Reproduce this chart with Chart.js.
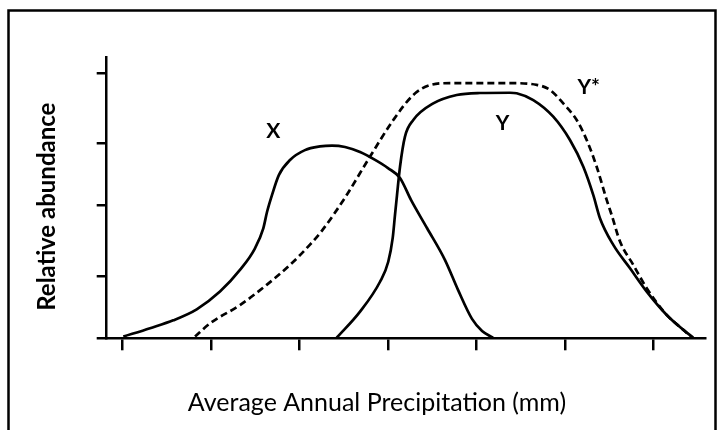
<!DOCTYPE html>
<html><head><meta charset="utf-8">
<script src="https://cdn.jsdelivr.net/npm/chart.js@4.4.1/dist/chart.umd.min.js"></script>
<style>html,body{margin:0;padding:0;background:#fff;overflow:hidden}canvas{display:block}</style>
</head><body>
<canvas id="c" width="723" height="430"></canvas>
<script>
// ---- data (x: precipitation, arbitrary units; y: relative abundance, arbitrary units) ----
const xTickValues = [0, 100, 200, 300, 400, 500, 600];
const yTickValues = [0, 22, 47.3, 69.2, 94.4];

const speciesXx = [0.7, 30.9, 57.2, 83.7, 110, 132.6, 149.6, 159, 163.2, 168.8, 176.7, 189.2, 206.1, 223.1, 236.7, 251.4, 268.4, 285.4, 300, 313.6, 326, 344.1, 364.5, 379.2, 395, 406.4, 418.8];
const speciesXy = [0.6, 3.6, 6.4, 10.3, 16.6, 24.3, 32, 39.1, 44.9, 50.9, 58.1, 63.4, 66.9, 68.2, 68.5, 68, 66.2, 63.4, 60.5, 57, 49.2, 39.2, 27.8, 17.2, 6.9, 2.6, 0.2];

const speciesYx = [242, 268.4, 291, 300.3, 305.3, 307.9, 310.2, 313.6, 319.2, 328.6, 351.2, 377.7, 404, 437.9, 445.5, 464.3, 486.9, 505.8, 520.9, 532.2, 539.7, 554.8, 573.7, 592.6, 615.2, 634, 645.3];
const speciesYy = [0.2, 9.5, 20.1, 27.2, 35.6, 43.8, 50.9, 61, 71.7, 77.6, 83.5, 86.5, 87.2, 87.3, 87.1, 84.7, 78.8, 70.5, 61, 50.9, 42.7, 33.2, 24.9, 16.6, 8.3, 3, 0.2];

const speciesYstarx = [81.8, 98.7, 132.6, 162.8, 189.2, 211.8, 225.4, 251.4, 279.7, 306, 328.6, 347.5, 370.1, 437.9, 468.2, 483.2, 498.2, 513.4, 524.7, 536, 547.3, 553, 562.4, 577.4, 592.6, 615.2, 634, 643.4];
const speciesYstary = [0.6, 5.3, 11.8, 19, 26.1, 33.3, 38.3, 50, 64.6, 77.6, 86.5, 90, 90.7, 90.7, 90.1, 88.3, 83.5, 77.6, 70.5, 61, 49.2, 43.8, 34.4, 26.1, 17.8, 8.3, 3, 0.2];

const curveNames = ['X', 'Y', 'Y*'];
const curveNameAtX = [170.3, 429.5, 527.0];
const curveNameAtY = [71.1, 74.0, 86.9];

const xTitle = 'Average Annual Precipitation (mm)';
const yTitle = 'Relative abundance';

// ---- build ----
const pts = (xs, ys) => xs.map((v, i) => ({x: v, y: ys[i]}));
const lineStyle = {borderColor: '#000', borderWidth: 2.7, pointRadius: 0, fill: false, cubicInterpolationMode: 'monotone'};

const decor = {
  id: 'decor',
  afterDraw(chart) {
    const ctx = chart.ctx, xs = chart.scales.x, ys = chart.scales.y;
    ctx.save();
    ctx.strokeStyle = '#000';
    ctx.lineWidth = 2.5;
    ctx.strokeRect(8.5, 10.5, 707, 440);
    ctx.fillStyle = '#000';
    ctx.textAlign = 'center';
    ctx.textBaseline = 'alphabetic';
    ctx.font = 'bold 21px Lato';
    curveNames.forEach((t, i) => ctx.fillText(t, xs.getPixelForValue(curveNameAtX[i]), ys.getPixelForValue(curveNameAtY[i])));
    ctx.font = '25px Lato';
    ctx.fillText(xTitle, 377, 411);
    ctx.translate(55, 206.7);
    ctx.rotate(-Math.PI / 2);
    ctx.font = 'bold 24px Lato';
    ctx.fillText(yTitle, 0, 0);
    ctx.restore();
  }
};

new Chart(document.getElementById('c'), {
  type: 'line',
  data: {
    datasets: [
      Object.assign({label: 'X', data: pts(speciesXx, speciesXy)}, lineStyle),
      Object.assign({label: 'Y', data: pts(speciesYx, speciesYy)}, lineStyle),
      Object.assign({label: 'Y*', data: pts(speciesYstarx, speciesYstary), borderDash: [7, 4]}, lineStyle)
    ]
  },
  options: {
    responsive: false,
    animation: false,
    devicePixelRatio: 1,
    layout: {padding: {left: 96.7, right: 18, top: 57, bottom: 79.7}},
    plugins: {legend: {display: false}, tooltip: {enabled: false}},
    scales: {
      x: {
        type: 'linear', min: -18.1, max: 658.5,
        afterBuildTicks: s => { s.ticks = xTickValues.map(v => ({value: v})); },
        ticks: {display: false},
        grid: {drawOnChartArea: false, drawTicks: true, tickLength: 12, color: '#000', lineWidth: 2.5},
        border: {display: true, color: '#000', width: 2.5}
      },
      y: {
        type: 'linear', min: 0, max: 100,
        afterBuildTicks: s => { s.ticks = yTickValues.map(v => ({value: v})); },
        ticks: {display: false},
        grid: {drawOnChartArea: false, drawTicks: true, tickLength: 10, color: '#000', lineWidth: 2.5},
        border: {display: true, color: '#000', width: 2.5}
      }
    }
  },
  plugins: [decor]
});
</script>
</body></html>
